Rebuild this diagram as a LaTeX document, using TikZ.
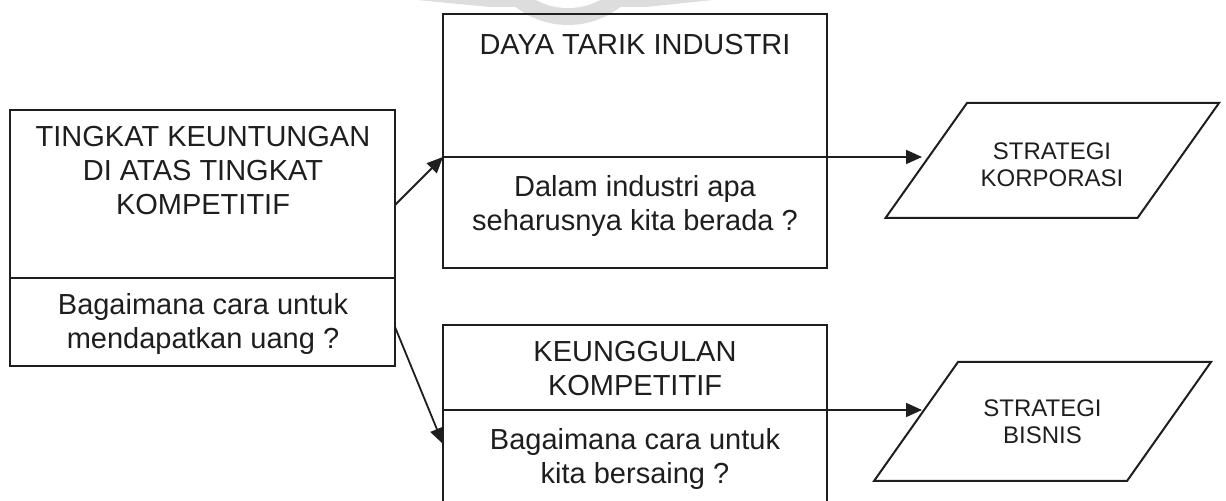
\documentclass[tikz,border=0pt]{standalone}
\usepackage{fontspec}
\setmainfont{Liberation Sans}
\usetikzlibrary{arrows.meta}
\definecolor{ink}{HTML}{1E1E1E}
\definecolor{wm}{HTML}{DDDDDD}
\begin{document}
\begin{tikzpicture}[x=0.5pt,y=-0.5pt,
  sect/.style={draw=ink, line width=1pt, inner sep=0pt, outer sep=0pt},
  txt/.style={text=ink, align=center, inner sep=0pt, font=\fontsize{14.5}{17}\selectfont},
  stxt/.style={text=ink, align=center, inner sep=0pt, font=\fontsize{12}{13.5}\selectfont},
  conn/.style={draw=ink, line width=0.9pt, -{Triangle[length=8pt,width=7pt]}},
  para/.style={draw=ink, line width=1pt, line join=miter}]
\useasboundingbox (0,0) rectangle (1226,501);
% faint watermark
\begin{scope}
\clip (0,0) rectangle (1226,501);
\fill[wm] (417,0) -- (490,7) -- (646,7) -- (713,0) -- cycle;
\fill[wm] (568,-60) circle[radius=85];
\fill[white] (568,-60) circle[radius=68];
\end{scope}
% boxes
\node[sect, minimum width=192.5pt, minimum height=84pt] (lt) at (202.5,194) {};
\node[sect, minimum width=192.5pt, minimum height=44pt] (lb) at (202.5,322) {};
\node[sect, minimum width=192pt, minimum height=71.5pt] (mt) at (635,85.5) {};
\node[sect, minimum width=192pt, minimum height=55.5pt] (mb) at (635,212.5) {};
\node[sect, minimum width=192pt, minimum height=42.5pt] (bt) at (635,367.5) {};
\node[sect, minimum width=192pt, minimum height=47.5pt] (bb) at (635,457.5) {};
% texts
\node[txt] (tlt) at (203,170.5) {TINGKAT KEUNTUNGAN\\DI ATAS TINGKAT\\KOMPETITIF};
\node[txt] (tlb) at (203,324.5) {Bagaimana cara untuk\\mendapatkan uang ?};
\node[txt] (tmt) at (635,45) {DAYA TARIK INDUSTRI};
\node[txt] (tmb) at (635,206) {Dalam industri apa\\seharusnya kita berada ?};
\node[txt] (tbt) at (635,369) {KEUNGGULAN\\KOMPETITIF};
\node[txt] (tbb) at (635,459) {Bagaimana cara untuk\\kita bersaing ?};
% parallelograms
\coordinate (p1a) at (967,103);
\coordinate (p1b) at (1219,103);
\coordinate (p1c) at (1137.5,218);
\coordinate (p1d) at (885.5,218);
\draw[para] (p1a) -- (p1b) -- (p1c) -- (p1d) -- cycle;
\node[stxt] (tp1) at (1052,164.5) {STRATEGI\\KORPORASI};
\coordinate (p2a) at (958,362);
\coordinate (p2b) at (1211,362);
\coordinate (p2c) at (1127,481);
\coordinate (p2d) at (874,481);
\draw[para] (p2a) -- (p2b) -- (p2c) -- (p2d) -- cycle;
\node[stxt] (tp2) at (1042.5,421.5) {STRATEGI\\BISNIS};
% arrow ends
\coordinate (e1) at (922,157);
\coordinate (e2) at (922,410);
% connectors
\draw[conn] ([yshift=-5.5pt]lt.east) -- (mt.south west);
\draw[conn] ([yshift=-2.5pt]lb.east) -- ([yshift=6.75pt]bb.west);
\draw[conn] (mt.south west) -- (e1);
\draw[conn] (bb.north west) -- (e2);
\end{tikzpicture}
\end{document}
